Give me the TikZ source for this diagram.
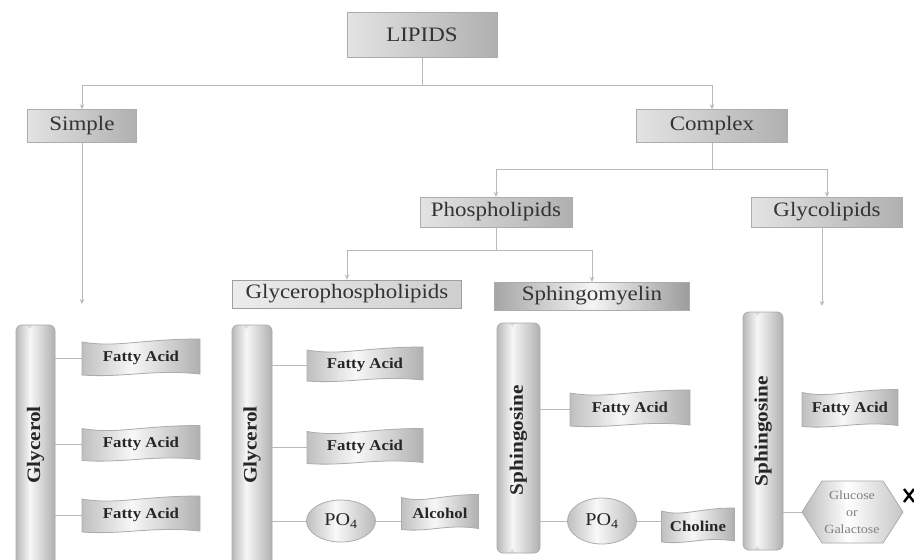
\documentclass[tikz,border=0pt]{standalone}
\usepackage{fontspec}
\setmainfont{Liberation Serif}
\newfontfamily\lab[FakeStretch=1.12]{Liberation Serif}
\usetikzlibrary{arrows.meta,shapes.geometric,calc}
\tikzset{
  tshade/.style n args={4}{path picture={
    \coordinate (ppa) at (path picture bounding box.south west);
    \coordinate (ppb) at (path picture bounding box.north east);
    \coordinate (ppm) at ($(ppa)!#4!(ppb)$);
    \shade[left color=#1, right color=#2] (ppa) rectangle ([xshift=0.5pt]ppm |- ppb);
    \shade[left color=#2, right color=#3] (ppm |- ppa) rectangle (ppb);
  }},
  topbox/.style={rectangle, draw=gray!65, left color=gray!22, right color=gray!62, inner sep=0pt, text=black!80, font=\lab\fontsize{20.5}{22}\selectfont},
  lbl/.style={inner sep=0pt, text=black!80, font=\lab\fontsize{20.5}{22}\selectfont},
  conn/.style={draw=gray!55, line width=1pt},
  arr/.style={conn, -{Stealth[length=5pt,width=4.5pt]}},
  flagfill/.style={draw=gray!65, line width=0.8pt, fill=gray!30, tshade={gray!50}{gray!6}{gray!62}{0.42}},
  flagtext/.style={inner sep=0pt, text=black!85, font=\lab\bfseries\fontsize{15}{16}\selectfont},
  barbox/.style={rectangle, rounded corners=6pt, draw=gray!65, line width=0.8pt, fill=gray!30, tshade={gray!55}{gray!6}{gray!62}{0.35}, inner sep=0pt},
  bartext/.style={rotate=90, text=black!85, font=\lab\bfseries\fontsize{19}{20}\selectfont},
  potext/.style={inner sep=0pt, text=black!85, font=\lab\fontsize{18}{19}\selectfont},
}
\newcommand\flagnode[6]{%
  \pgfmathsetmacro\fxa{#2-#4/2}\pgfmathsetmacro\fxb{#2+#4/2}%
  \pgfmathsetmacro\fya{#3-#5/2}\pgfmathsetmacro\fyb{#3+#5/2}%
  \pgfmathsetmacro\fw{#4}%
  \path[flagfill] (\fxa,\fya+1) .. controls (\fxa+0.3*\fw,\fya+7) and (\fxa+0.5*\fw,\fya-2) .. (\fxb,\fya-2) -- (\fxb,\fyb-1) .. controls (\fxa+0.6*\fw,\fyb-6) and (\fxa+0.35*\fw,\fyb+3) .. (\fxa,\fyb) -- cycle;
  \node[flagtext, minimum width=#4, minimum height=#5] (#1) at (#2,#3) {#6};
}
% ellipse: name, cx, cy, rx, ry
\newcommand\poell[5]{%
  \path[draw=gray!65, line width=0.8pt, fill=gray!25, tshade={gray!50}{gray!5}{gray!55}{0.42}] (#2,#3) ellipse [x radius=#4, y radius=#5];
  \node[ellipse, inner sep=0pt, minimum width=2*#4, minimum height=2*#5] (#1) at (#2,#3) {};
  \node[potext] at (#1) {PO\textsubscript{4}};
}
\begin{document}
\begin{tikzpicture}[x=1pt,y=-1pt]
\useasboundingbox[fill=white] (0,0) rectangle (914,560);

% top level boxes
\node[topbox, minimum width=150, minimum height=45] (lipids) at (422,35) {LIPIDS};
\node[topbox, minimum width=109, minimum height=33] (simple) at (82,126) {Simple};
\node[topbox, minimum width=151, minimum height=33] (complex) at (712,126) {Complex};
\node[topbox, minimum width=152, minimum height=30] (phos) at (496,212) {Phospholipids};
\node[topbox, minimum width=151, minimum height=30] (glyco) at (827,212) {Glycolipids};
\node[topbox, draw=gray!75, line width=1pt, minimum width=229, minimum height=28, left color=gray!15, right color=gray!38] (gp) at (347,294) {Glycerophospholipids};
\path[draw=gray!65, line width=0.8pt, fill=gray!30, tshade={gray!70}{gray!8}{gray!78}{0.5}] (494.5,282) rectangle (689.5,310);
\node[rectangle, inner sep=0pt, minimum width=195, minimum height=28] (sm) at (592,296) {};
\node[lbl] at (sm) {Sphingomyelin};

% tree connectors
\draw[arr] (lipids.south) -- ++(0,28) -| (simple.north);
\draw[arr] (lipids.south) -- ++(0,28) -| (complex.north);
\draw[arr] (complex.south) -- ++(0,27) -| (phos.north);
\draw[arr] (complex.south) -- ++(0,27) -| (glyco.north);
\draw[arr] (phos.south) -- ++(0,23) -| (gp.north);
\draw[arr] (phos.south) -- ++(0,23) -| (sm.north);
\coordinate (s1) at (82,304);
\draw[arr] (simple.south) -- (s1);
\coordinate (s4) at (822,306);
\draw[arr] (glyco.south -| s4) -- (s4);

% bars
\node[barbox, minimum width=39, minimum height=245] (g1) at (35.5,447.5) {};
\node[bartext] at (35.5,445) {Glycerol};
\node[barbox, minimum width=40, minimum height=245] (g2) at (252,447.5) {};
\node[bartext] at (252,445) {Glycerol};
\node[barbox, minimum width=43, minimum height=230] (b3) at (518.5,438) {};
\node[bartext] at (518.5,440) {Sphingosine};
\node[barbox, minimum width=40, minimum height=238] (b4) at (763,431) {};
\node[bartext] at (763,431) {Sphingosine};

% column 1
\flagnode{fa1}{141}{358}{118}{34}{Fatty Acid}
\flagnode{fa2}{141}{444}{118}{33}{Fatty Acid}
\flagnode{fa3}{141}{515}{118}{34}{Fatty Acid}
\draw[conn] (g1.east |- fa1) -- (fa1.west);
\draw[conn] (g1.east |- fa2) -- (fa2.west);
\draw[conn] (g1.east |- fa3) -- (fa3.west);

% column 2
\flagnode{fa4}{365}{365}{116}{32}{Fatty Acid}
\flagnode{fa5}{365}{447}{116}{33}{Fatty Acid}
\poell{po1}{341}{521}{34.5}{21}
\flagnode{alc}{440}{513}{77}{33}{Alcohol}
\draw[conn] (g2.east |- fa4) -- (fa4.west);
\draw[conn] (g2.east |- fa5) -- (fa5.west);
\draw[conn] (g2.east |- po1) -- (po1.west);
\draw[conn] (po1.east) -- (po1.east -| alc.west);

% column 3
\flagnode{fa6}{630}{409}{120}{34}{Fatty Acid}
\poell{po2}{602}{521}{34.5}{23}
\flagnode{cho}{698}{526}{73}{32}{Choline}
\draw[conn] (b3.east |- fa6) -- (fa6.west);
\draw[conn] (b3.east |- po2) -- (po2.west);
\draw[conn] (po2.east) -- (po2.east -| cho.west);

% column 4
\flagnode{fa7}{850}{409}{96}{35}{Fatty Acid}
\path[draw=gray!65, line width=0.8pt, fill=gray!25, tshade={gray!55}{white}{gray!45}{0.45}]
  (802,512) -- (822,481) -- (883,481) -- (903,512) -- (883,543) -- (822,543) -- cycle;
\coordinate (hexw) at (802,512);
\node[align=center, text=black!50, font=\lab\fontsize{12.5}{17}\selectfont] (hex) at (852,512) {Glucose\\or\\Galactose};
\draw[conn] (b4.east |- hexw) -- (hexw);
\draw[line width=2.4pt, black] (904,489) -- (914,502) (904,502) -- (914,489);
\end{tikzpicture}
\end{document}
